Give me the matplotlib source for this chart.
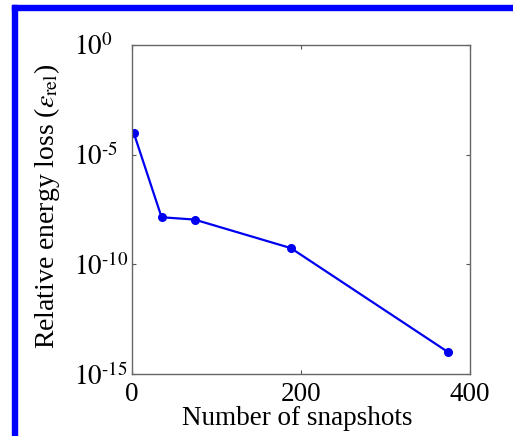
import matplotlib
matplotlib.use("Agg")
import matplotlib.pyplot as plt
from matplotlib.patches import Rectangle

snapshots = [2, 35, 74, 188, 374]
energy_loss = [1.0e-4, 1.4e-8, 1.1e-8, 5.5e-10, 1.0e-14]
x_ticks = [0, 200, 400]
y_ticks = [1e-15, 1e-10, 1e-5, 1e0]
y_tick_labels = [r"$10^{\text{-15}}$", r"$10^{\text{-10}}$", r"$10^{\text{-5}}$", r"$10^{0}$"]

plt.rcParams['font.family'] = ['Liberation Serif', 'DejaVu Serif']
plt.rcParams['mathtext.fontset'] = 'stix'

W, H = 513, 436
fig = plt.figure(figsize=(W / 100, H / 100), dpi=100)
fig.patch.set_facecolor('white')

# blue frame (top and left)
fig.patches.append(Rectangle((12 / W, 1 - 10 / H), 1 - 12 / W, 5 / H,
                             transform=fig.transFigure, color='#0000ff', zorder=0))
fig.patches.append(Rectangle((12 / W, 0), 5 / W, 1 - 5 / H,
                             transform=fig.transFigure, color='#0000ff', zorder=0))

ax = fig.add_axes([132 / W, 1 - 374 / H, (470 - 132) / W, (374 - 45) / H])
ax.plot(snapshots, energy_loss, '-o', color='#0000f0', lw=1.6, ms=5.5)
ax.set_yscale('log')
ax.set_xlim(0, 400)
ax.set_ylim(1e-15, 1e0)
ax.set_xticks(x_ticks)
ax.set_yticks(y_ticks)
ax.set_yticklabels(y_tick_labels)
ax.minorticks_off()
ax.tick_params(direction='in', length=3, width=0.8, color='#555555',
               top=True, right=True, labelsize=19.5)
ax.tick_params(axis='x', pad=6)
ax.tick_params(axis='y', pad=42)
for lab in ax.get_yticklabels():
    lab.set_horizontalalignment('left')
for s in ax.spines.values():
    s.set_color('#666666')
    s.set_linewidth(1.0)
ax.set_xlabel('Number of snapshots', fontsize=19.5, labelpad=0)
ax.xaxis.set_label_coords(0.49, -0.097)
ax.set_ylabel(r'Relative energy loss ($\varepsilon_{\rm rel}$)', fontsize=20)
ax.yaxis.set_label_coords(-0.207, 0.51)

fig.savefig('out.png', dpi=100)
